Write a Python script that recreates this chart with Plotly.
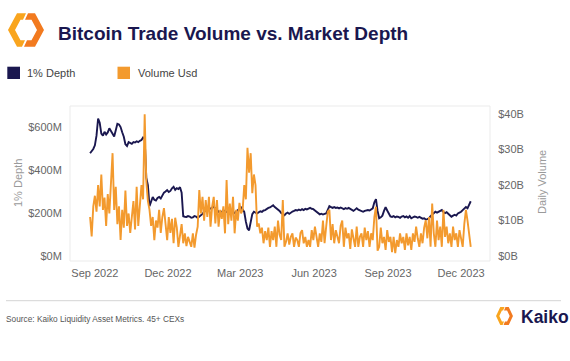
import plotly.graph_objects as go
import pandas as pd

# ---------------- data (2-day samples starting 2022-08-26) ----------------
start_date = "2022-08-26"

depth_m = [
    478, 486, 498, 515, 560, 640, 620, 570, 560, 578,
    565, 575, 594, 582, 568, 556, 585, 615, 612, 600,
    576, 555, 520, 512, 530, 526, 522, 530, 528, 534,
    530, 536, 540, 552, 545, 365, 330, 232, 255, 275,
    262, 258, 270, 275, 268, 282, 295, 300, 307, 298,
    303, 315, 322, 308, 316, 312, 320, 295, 185, 183,
    182, 186, 184, 178, 180, 186, 184, 177, 182, 188,
    196, 206, 210, 214, 218, 222, 226, 229, 222, 212,
    206, 200, 205, 212, 210, 205, 210, 214, 210, 204,
    200, 208, 214, 220, 226, 216, 205, 160, 128, 120,
    165, 195, 206, 200, 198, 204, 208, 205, 212, 214,
    220, 224, 226, 230, 236, 228, 222, 218, 210, 200,
    196, 190, 198, 202, 196, 204, 207, 210, 214, 212,
    216, 213, 218, 214, 220, 217, 222, 224, 220, 218,
    212, 205, 198, 194, 197, 193, 196, 198, 215, 232,
    228, 224, 228, 224, 226, 222, 226, 220, 218, 223,
    220, 224, 218, 214, 210, 216, 222, 216, 212, 210,
    206, 210, 212, 214, 212, 218, 222, 250, 265, 210,
    176, 180, 188, 210, 228, 212, 196, 184, 182, 186,
    180, 184, 182, 178, 184, 186, 180, 184, 178, 186,
    176, 180, 184, 182, 178, 182, 178, 174, 176, 170,
    172, 176, 186, 192, 200, 206, 202, 206, 210, 214,
    205, 200, 204, 196, 186, 183, 188, 192, 188, 198,
    202, 206, 214, 222, 228, 222, 240, 255,
]

volume_b = [
    11.0, 5.5, 14.0, 17.0, 12.5, 20.0, 14.0, 23.0, 13.0, 16.5,
    8.5, 17.5, 12.0, 19.0, 29.0, 13.0, 19.5, 9.0, 14.0, 4.5,
    13.0, 8.0, 18.5, 8.5, 12.0, 6.5, 12.0, 15.5, 7.5, 19.5,
    8.5, 14.5, 20.0, 16.0, 40.0, 21.0, 15.5, 13.0, 8.5, 11.0,
    4.5, 10.0, 8.0, 13.0, 6.5, 11.0, 13.5, 9.0, 4.5, 11.0,
    6.5, 10.5, 3.6, 10.8, 8.0, 2.6, 6.4, 9.0, 3.6, 6.4,
    2.8, 5.4, 4.0, 2.6, 6.4, 2.4, 6.0, 8.3, 18.6, 12.0,
    16.7, 10.0, 15.8, 11.0, 16.7, 8.3, 13.9, 16.7, 9.2, 15.8,
    8.3, 13.0, 10.5, 14.0, 6.4, 21.4, 9.0, 14.8, 10.0, 16.7,
    6.4, 13.0, 10.0, 15.0, 12.0, 13.0, 20.0, 16.0, 30.5, 23.5,
    29.0, 17.7, 23.0, 20.0, 8.3, 9.2, 6.4, 8.0, 3.6, 7.0,
    4.5, 8.0, 2.6, 7.0, 4.5, 8.3, 2.6, 10.0, 6.0, 4.5,
    15.8, 2.6, 4.0, 6.4, 3.2, 5.4, 6.4, 2.6, 5.2, 4.5,
    2.6, 6.5, 7.3, 3.6, 5.4, 2.6, 4.5, 2.6, 7.3, 4.5,
    8.3, 5.4, 2.6, 6.4, 4.0, 10.0, 3.6, 8.3, 12.5, 13.0,
    4.5, 9.0, 3.6, 7.3, 5.0, 3.6, 8.5, 10.0, 2.6, 8.0,
    5.0, 6.4, 2.0, 7.5, 5.0, 2.6, 8.3, 2.6, 5.4, 6.4,
    2.6, 8.0, 4.5, 7.0, 2.6, 6.4, 4.5, 11.0, 13.9, 1.5,
    2.6, 8.0, 3.6, 5.4, 1.7, 7.3, 4.0, 5.4, 1.1, 5.4,
    0.8, 4.5, 2.6, 6.4, 3.6, 5.4, 1.7, 6.4, 3.0, 5.4,
    1.7, 6.4, 4.0, 8.3, 5.0, 2.6, 6.4, 3.6, 8.0, 10.1,
    5.0, 11.0, 2.6, 14.8, 6.4, 2.6, 10.0, 4.5, 8.3, 2.6,
    13.0, 5.4, 8.3, 3.6, 6.4, 2.6, 8.3, 4.5, 6.4, 2.6,
    7.3, 4.5, 2.6, 9.0, 13.0, 10.0, 6.0, 2.6,
]

x_tick_vals = ["2022-09-01", "2022-12-01", "2023-03-01", "2023-06-01", "2023-09-01", "2023-12-01"]
x_tick_text = ["Sep 2022", "Dec 2022", "Mar 2023", "Jun 2023", "Sep 2023", "Dec 2023"]
left_tick_vals = [0, 200, 400, 600]
left_tick_text = ["$0M", "$200M", "$400M", "$600M"]
right_tick_vals = [0, 10, 20, 30, 40]
right_tick_text = ["$0B", "$10B", "$20B", "$30B", "$40B"]

dates = pd.date_range(start_date, periods=len(depth_m), freq="2D")

# ---------------- styling ----------------
NAVY = "#1a174f"
ORANGE = "#F39A2E"
FONT = "Liberation Sans, Arial, sans-serif"
W, H = 570, 361
ML, MR, MT, MB = 70, 80, 106, 100
PW = W - ML - MR
PH = H - MT - MB


def PX(px):
    return (px - ML) / PW


def PY(py):
    return (H - MB - py) / PH


fig = go.Figure()
fig.add_trace(go.Scatter(x=dates, y=depth_m, mode="lines", name="1% Depth",
                         line=dict(color=NAVY, width=1.9), yaxis="y"))
fig.add_trace(go.Scatter(x=dates, y=volume_b, mode="lines", name="Volume Usd",
                         line=dict(color=ORANGE, width=1.9), yaxis="y2"))

tickfont = dict(family=FONT, size=11, color="#666666")
fig.update_layout(
    width=W, height=H,
    margin=dict(l=ML, r=MR, t=MT, b=MB, pad=0),
    paper_bgcolor="white", plot_bgcolor="white",
    showlegend=False,
    font=dict(family=FONT),
    xaxis=dict(type="date", range=["2022-08-01", "2024-01-06"],
               tickvals=x_tick_vals, ticktext=x_tick_text,
               showgrid=False, zeroline=False, showline=False,
               ticks="outside", ticklen=2, tickcolor="rgba(0,0,0,0)",
               tickfont=tickfont),
    yaxis=dict(range=[-23, 698], tickvals=left_tick_vals, ticktext=left_tick_text,
               showgrid=False, zeroline=False, showline=False,
               ticks="outside", ticklen=5, tickcolor="rgba(0,0,0,0)",
               tickfont=tickfont),
    yaxis2=dict(range=[-1.4, 42.3], overlaying="y", side="right",
                tickvals=right_tick_vals, ticktext=right_tick_text,
                showgrid=False, zeroline=False, showline=False,
                ticks="outside", ticklen=5, tickcolor="rgba(0,0,0,0)",
                tickfont=tickfont),
)

shapes = []
annotations = []

# plot frame
shapes.append(dict(type="rect", xref="paper", yref="paper", x0=0, x1=1, y0=0, y1=1,
                   line=dict(color="#ebebeb", width=1), layer="below"))


def logo_shapes(cx, cy, sx, sy):
    left = [(26, 15), (17, 15), (8, 33), (17, 51), (22, 51), (25, 44), (20.5, 44),
            (15, 33), (20.5, 22), (23, 22)]
    right = [(28, 15), (35, 15), (44, 33), (35, 51), (24, 51), (27, 44), (31.5, 44),
             (37, 33), (31.5, 22), (25, 22)]
    out = []
    for pts, col in ((left, "#F9A51E"), (right, "#F27A1F")):
        tp = [(PX(cx + (x - 26) * sx), PY(cy + (y - 33) * sy)) for x, y in pts]
        path = "M " + " L ".join(f"{a:.5f},{b:.5f}" for a, b in tp) + " Z"
        out.append(dict(type="path", xref="paper", yref="paper", path=path,
                        fillcolor=col, line=dict(width=0)))
    return out


shapes += logo_shapes(26, 30, 1.0, 0.93)
annotations.append(dict(text="<b>Bitcoin Trade Volume vs. Market Depth</b>",
                        x=PX(56), y=PY(33.5), xref="paper", yref="paper",
                        xanchor="left", yanchor="middle", showarrow=False,
                        font=dict(family=FONT, size=19, color=NAVY)))

# legend
shapes.append(dict(type="rect", xref="paper", yref="paper", x0=PX(7.3), x1=PX(20),
                   y0=PY(79), y1=PY(66.7), fillcolor=NAVY, line=dict(width=0)))
shapes.append(dict(type="rect", xref="paper", yref="paper", x0=PX(117.5), x1=PX(130),
                   y0=PY(79), y1=PY(66.7), fillcolor=ORANGE, line=dict(width=0)))
annotations.append(dict(text="1% Depth", x=PX(25), y=PY(72.7), xref="paper", yref="paper",
                        xanchor="left", yanchor="middle", showarrow=False,
                        font=dict(family=FONT, size=11, color="#444444")))
annotations.append(dict(text="Volume Usd", x=PX(135.5), y=PY(72.7), xref="paper", yref="paper",
                        xanchor="left", yanchor="middle", showarrow=False,
                        font=dict(family=FONT, size=11, color="#444444")))

# axis titles
annotations.append(dict(text="1% Depth", x=PX(18), y=PY(183), xref="paper", yref="paper",
                        xanchor="center", yanchor="middle", showarrow=False, textangle=-90,
                        font=dict(family=FONT, size=11, color="#9a9a9a")))
annotations.append(dict(text="Daily Volume", x=PX(542), y=PY(182), xref="paper", yref="paper",
                        xanchor="center", yanchor="middle", showarrow=False, textangle=-90,
                        font=dict(family=FONT, size=11, color="#9a9a9a")))

# footer
shapes.append(dict(type="line", xref="paper", yref="paper", x0=PX(6), x1=PX(561),
                   y0=PY(300.7), y1=PY(300.7), line=dict(color="#d4d4d4", width=1)))
annotations.append(dict(text="Source: Kaiko Liquidity Asset Metrics. 45+ CEXs",
                        x=PX(4), y=PY(319), xref="paper", yref="paper",
                        xanchor="left", yanchor="middle", showarrow=False,
                        font=dict(family=FONT, size=8.3, color="#555555")))
shapes += logo_shapes(504.5, 316, 0.47, 0.5)
annotations.append(dict(text="<b>Kaiko</b>", x=PX(518.5), y=PY(316.7), xref="paper", yref="paper",
                        xanchor="left", yanchor="middle", showarrow=False,
                        font=dict(family=FONT, size=17.5, color=NAVY)))

fig.update_layout(shapes=shapes, annotations=annotations)
fig.write_html("out.html", config={"displayModeBar": False},
               post_script="document.body.style.margin='0px';")
